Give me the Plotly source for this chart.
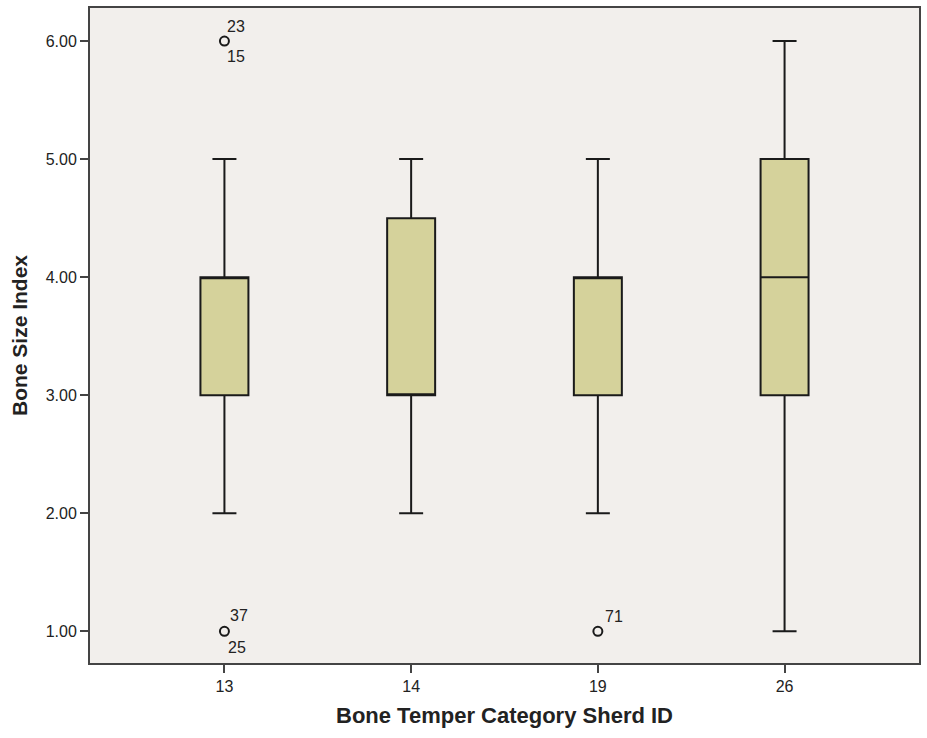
import plotly.graph_objects as go

categories = ["13", "14", "19", "26"]
lower_fence = [2, 2, 2, 1]
q1 = [3, 3, 3, 3]
median = [4, 3, 4, 4]
q3 = [4, 4.5, 4, 5]
upper_fence = [5, 5, 5, 6]

outlier_x = ["13", "13", "19"]
outlier_y = [6, 1, 1]
# labels: (category, value, text, xshift, yshift)
outlier_labels = [
    ("13", 6, "23", 12, 15),
    ("13", 6, "15", 12, -15),
    ("13", 1, "37", 15, 16),
    ("13", 1, "25", 13, -16),
    ("19", 1, "71", 16, 15),
]

y_ticks = [1, 2, 3, 4, 5, 6]
y_ticktext = ["1.00", "2.00", "3.00", "4.00", "5.00", "6.00"]

FONT = "Liberation Sans, Arial, sans-serif"

fig = go.Figure()
fig.add_trace(go.Box(
    x=categories, q1=q1, median=median, q3=q3,
    lowerfence=lower_fence, upperfence=upper_fence,
    boxpoints=False, width=0.257, whiskerwidth=0.5,
    fillcolor="#D5D29B", line=dict(color="#1a1a1a", width=2),
    showlegend=False, hoverinfo="skip",
))
fig.add_trace(go.Scatter(
    x=outlier_x, y=outlier_y, mode="markers",
    marker=dict(symbol="circle-open", size=9, color="#1a1a1a", line=dict(width=2)),
    showlegend=False, hoverinfo="skip",
))

for cat, val, txt, xs, ys in outlier_labels:
    fig.add_annotation(
        x=categories.index(cat), y=val, xref="x", yref="y",
        text=txt, showarrow=False, xshift=xs, yshift=ys,
        font=dict(family=FONT, size=16, color="#222"),
    )

fig.update_layout(
    width=927, height=738,
    margin=dict(l=90, r=6, t=6, b=75),
    paper_bgcolor="white", plot_bgcolor="#F2EFEC",
    font=dict(family=FONT, color="#222"),
)
fig.update_xaxes(
    type="category", categoryorder="array", categoryarray=categories,
    range=[-0.72, 3.72], showgrid=False, zeroline=False,
    showline=True, linecolor="#444", linewidth=2, mirror=True,
    ticks="outside", ticklen=8, tickwidth=2, tickcolor="#444",
    tickfont=dict(size=16, color="#222"),
    title=dict(text="<b>Bone Temper Category Sherd ID</b>", font=dict(size=22, color="#222"), standoff=13),
)
fig.update_yaxes(
    range=[0.732, 6.28], tickvals=y_ticks, ticktext=y_ticktext,
    showgrid=False, zeroline=False,
    showline=True, linecolor="#444", linewidth=2, mirror=True,
    ticks="outside", ticklen=8, tickwidth=2, tickcolor="#444",
    tickfont=dict(size=16, color="#222"),
    title=dict(text="<b>Bone Size Index</b>", font=dict(size=21, color="#222"), standoff=12),
)

fig.write_html("out.html", config={"displayModeBar": False},
               post_script="document.body.style.margin='0';")
